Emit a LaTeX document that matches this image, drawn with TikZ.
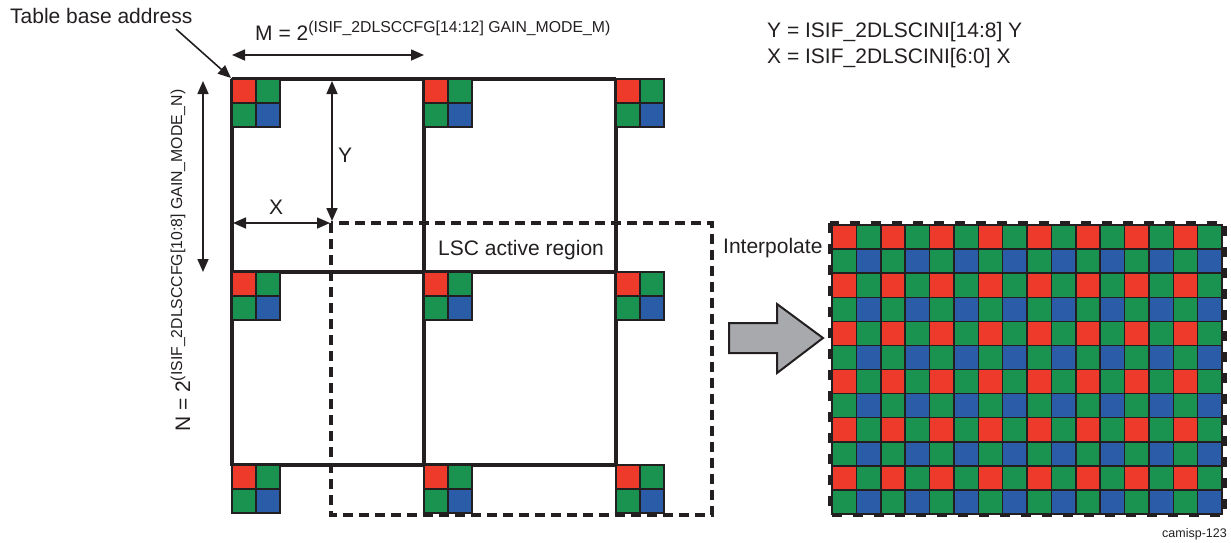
\documentclass[tikz,border=0pt]{standalone}
\usepackage{fontspec}
\setmainfont{Liberation Sans}
\usetikzlibrary{arrows.meta}
\definecolor{pr}{HTML}{EE3A2B}
\definecolor{pg}{HTML}{1A9350}
\definecolor{pb}{HTML}{2A5CA8}
\definecolor{dk}{HTML}{231F20}
\definecolor{gr}{HTML}{A7A9AC}
\tikzset{
  lbl/.style={inner sep=0pt, font=\fontsize{21}{25}\selectfont, text=dk},
  smalllbl/.style={inner sep=0pt, font=\fontsize{12.5}{15}\selectfont, text=dk},
  gridline/.style={draw=dk, line width=3.4},
  dashrect/.style={draw=dk, line width=3.4, dash pattern=on 10 off 6},
  dimarrow/.style={draw=dk, line width=1.6, {Triangle[length=13,width=11]}-{Triangle[length=13,width=11]}},
  onearrow/.style={draw=dk, line width=1.6, -{Triangle[length=13,width=11]}},
  cell/.style={draw=dk, line width=1.5},
}
\newcommand{\pixblock}[2]{%
  \filldraw[cell, fill=pr] (#1,#2) rectangle ++(24,24);
  \filldraw[cell, fill=pg] (#1+24,#2) rectangle ++(24,24);
  \filldraw[cell, fill=pg] (#1,#2+24) rectangle ++(24,24);
  \filldraw[cell, fill=pb] (#1+24,#2+24) rectangle ++(24,24);
}
\begin{document}
\begin{tikzpicture}[x=1pt,y=-1pt]
\useasboundingbox (0,0) rectangle (1231,542);

% LSC active region (dashed)
\draw[dashrect] (331,223) rectangle (712,515);

% solid grid
\foreach \gx in {232,424,616} \draw[gridline] (\gx,79) -- (\gx,466);
\foreach \gy in {79,272,465} \draw[gridline] (232,\gy) -- (616,\gy);

% pixel blocks
\foreach \bx in {232,424,616} {
  \foreach \by in {79,272,465} {
    \pixblock{\bx}{\by}
  }
}

% labels
\node[lbl, anchor=base west] (tba) at (10,23) {Table base address};
\coordinate (tbaTail) at (176,29);
\coordinate (tbaTip) at (231,78);
\draw[onearrow] (tbaTail) -- (tbaTip);

\node[lbl, anchor=base west] (mlbl) at (255,40) {M = 2\raisebox{8pt}{\fontsize{15.8}{18}\selectfont(ISIF\_2DLSCCFG[14:12] GAIN\_MODE\_M)}};
\coordinate (mL) at (232,55);
\coordinate (mR) at (424,55);
\draw[dimarrow] (mL) -- (mR);

\node[lbl, anchor=base west, rotate=90] (nlbl) at (190,432) {N = 2\raisebox{8pt}{\fontsize{15.8}{18}\selectfont(ISIF\_2DLSCCFG[10:8] GAIN\_MODE\_N)}};
\coordinate (nT) at (203,81);
\coordinate (nB) at (203,272);
\draw[dimarrow] (nT) -- (nB);

\coordinate (yT) at (332,81);
\coordinate (yB) at (332,221);
\draw[dimarrow] (yT) -- (yB);
\node[lbl] (ylbl) at (345,155) {Y};

\coordinate (xL) at (233,223);
\coordinate (xR) at (330,223);
\draw[dimarrow] (xL) -- (xR);
\node[lbl] (xlbl) at (276,207) {X};

\node[lbl, anchor=base west] (yeq) at (767,37) {Y = ISIF\_2DLSCINI[14:8] Y};
\node[lbl, anchor=base west] (xeq) at (767,63) {X = ISIF\_2DLSCINI[6:0] X};

\node[lbl, anchor=base west] (lsc) at (438,255) {LSC active region};
\node[lbl, anchor=base west] (interp) at (723,253) {Interpolate};

% gray arrow
\draw[draw=dk, fill=gr, line width=2, line join=miter] (729,323) -- (777,323) -- (777,304) -- (823,338) -- (777,373) -- (777,353) -- (729,353) -- cycle;

% interpolated grid
\draw[dashrect, dash pattern=on 10 off 11] (830,223) rectangle (1225,515);
\foreach \r in {0,...,11} {
  \foreach \c in {0,...,15} {
    \pgfmathtruncatemacro{\k}{mod(\r,2)*2+mod(\c,2)}
    \ifcase\k \def\col{pr}\or \def\col{pg}\or \def\col{pg}\or \def\col{pb}\fi
    \filldraw[cell, fill=\col] (832+\c*24.375, 225+\r*24.083) rectangle ++(24.375,24.083);
  }
}

\node[smalllbl, anchor=base east] (cam) at (1227,537) {camisp-123};
\end{tikzpicture}
\end{document}
